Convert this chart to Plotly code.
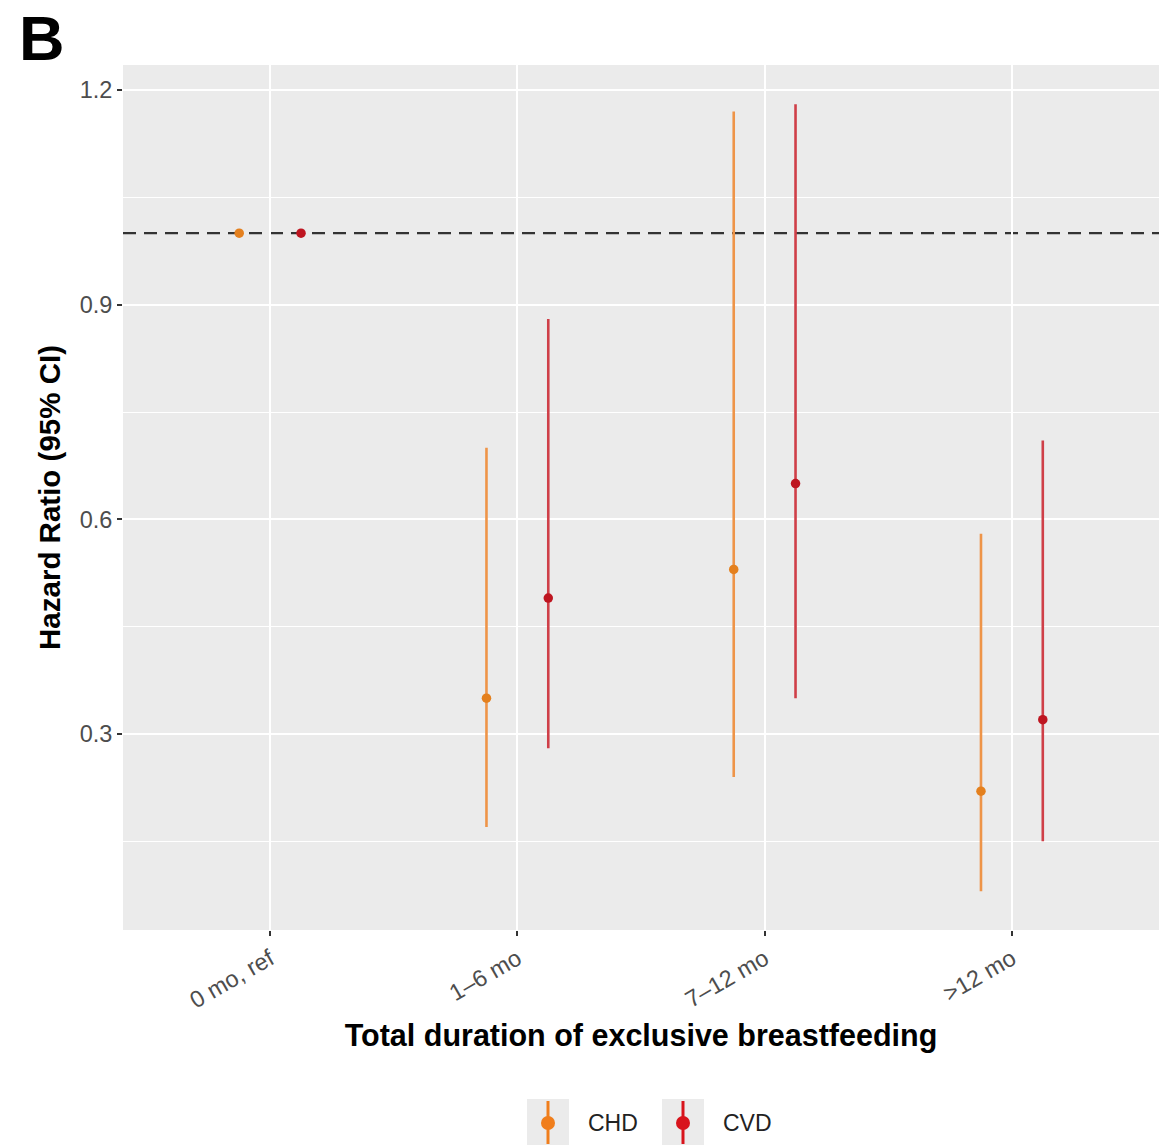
import plotly.graph_objects as go

categories = ["0 mo, ref", "1\u20136 mo", "7\u201312 mo", ">12 mo"]
chd_hr = [1.0, 0.35, 0.53, 0.22]
chd_lo = [1.0, 0.17, 0.24, 0.08]
chd_hi = [1.0, 0.70, 1.17, 0.58]
cvd_hr = [1.0, 0.49, 0.65, 0.32]
cvd_lo = [1.0, 0.28, 0.35, 0.15]
cvd_hi = [1.0, 0.88, 1.18, 0.71]
yticks = [0.3, 0.6, 0.9, 1.2]
series_names = ["CHD", "CVD"]

FONT = "Liberation Sans, Arial, Helvetica, sans-serif"
W, H = 1159, 1145
ML, MR, MT, MB = 123, 0, 65, 215
PW, PH = W - ML - MR, H - MT - MB
dodge = 0.125

LINE_COLORS = {"CHD": "#EE9448", "CVD": "#CF3F48"}
PT_COLORS = {"CHD": "#E4801E", "CVD": "#BE1520"}
KEY_COLORS = {"CHD": "#F07E1C", "CVD": "#D8141C"}

fig = go.Figure()

def add_series(name, hr, lo, hi, offset):
    xs = [i + offset for i in range(len(categories))]
    fig.add_trace(go.Scatter(
        x=xs, y=hr, mode="markers", name=name, showlegend=False,
        marker=dict(color=PT_COLORS[name], size=9.5),
        error_y=dict(type="data", symmetric=False,
                     array=[h - m for h, m in zip(hi, hr)],
                     arrayminus=[m - l for m, l in zip(hr, lo)],
                     color=LINE_COLORS[name], thickness=2.6, width=0),
        cliponaxis=False,
    ))

add_series("CHD", chd_hr, chd_lo, chd_hi, -dodge)
add_series("CVD", cvd_hr, cvd_lo, cvd_hi, dodge)

fig.add_hline(y=1.0, line=dict(color="#333333", width=2.4, dash="13px,8px"), layer="below")

# manual ggplot-style legend (pixel positions converted to paper coords)
def px(x):
    return (x - ML) / PW

def py(y):
    return (H - MB - y) / PH

annotations = []
key_centers = [548, 683]
for name, cx in zip(series_names, key_centers):
    fig.add_shape(type="rect", xref="paper", yref="paper",
                  x0=px(cx - 21), x1=px(cx + 21), y0=py(1145), y1=py(1099),
                  fillcolor="#EBEBEB", line=dict(width=0), layer="below")
    fig.add_shape(type="line", xref="paper", yref="paper",
                  x0=px(cx), x1=px(cx), y0=py(1144), y1=py(1101),
                  line=dict(color=KEY_COLORS[name], width=3))
    fig.add_shape(type="circle", xref="paper", yref="paper",
                  x0=px(cx - 7), x1=px(cx + 7), y0=py(1130), y1=py(1116),
                  fillcolor=KEY_COLORS[name], line=dict(width=0))
    annotations.append(dict(text=name, xref="paper", yref="paper",
                            x=px(cx + 38), y=py(1123), xanchor="left", yanchor="middle",
                            showarrow=False, font=dict(size=23, color="#222222", family=FONT)))

annotations.append(dict(text="<b>B</b>", xref="paper", yref="paper", x=px(17), y=py(1),
                        xanchor="left", yanchor="top", showarrow=False,
                        font=dict(size=63, color="black", family=FONT)))

fig.update_layout(
    width=W, height=H,
    margin=dict(l=ML, r=MR, t=MT, b=MB, autoexpand=False),
    paper_bgcolor="white", plot_bgcolor="#EBEBEB",
    font=dict(family=FONT, color="#4D4D4D"),
    showlegend=False,
    annotations=annotations,
)

fig.update_xaxes(
    range=[-0.595, 3.595], tickvals=list(range(len(categories))), ticktext=categories,
    tickangle=-30, tickfont=dict(size=23.5, color="#4D4D4D"),
    showgrid=True, gridcolor="white", gridwidth=2.2, zeroline=False,
    ticks="outside", ticklen=5, tickcolor="#333333", tickwidth=1.5,
    title=dict(text="<b>Total duration of exclusive breastfeeding</b>",
               font=dict(size=30.5, color="black", family=FONT), standoff=12),
    showline=False, automargin=False,
)
fig.update_yaxes(
    range=[0.026, 1.235], tickvals=yticks, ticktext=[f"{v:.1f}" for v in yticks],
    tickfont=dict(size=23.5, color="#4D4D4D"),
    showgrid=True, gridcolor="white", gridwidth=2.2, zeroline=False,
    ticks="outside", ticklen=5, tickcolor="#333333", tickwidth=1.5,
    minor=dict(tickvals=[0.15, 0.45, 0.75, 1.05], showgrid=True, gridcolor="white", gridwidth=1, ticks=""),
    title=dict(text="<b>Hazard Ratio (95% CI)</b>",
               font=dict(size=29.5, color="black", family=FONT), standoff=10),
    showline=False, automargin=False,
)

fig.write_html("out.html", config={"displayModeBar": False},
               post_script="document.body.style.margin='0';document.body.style.overflow='hidden';")
